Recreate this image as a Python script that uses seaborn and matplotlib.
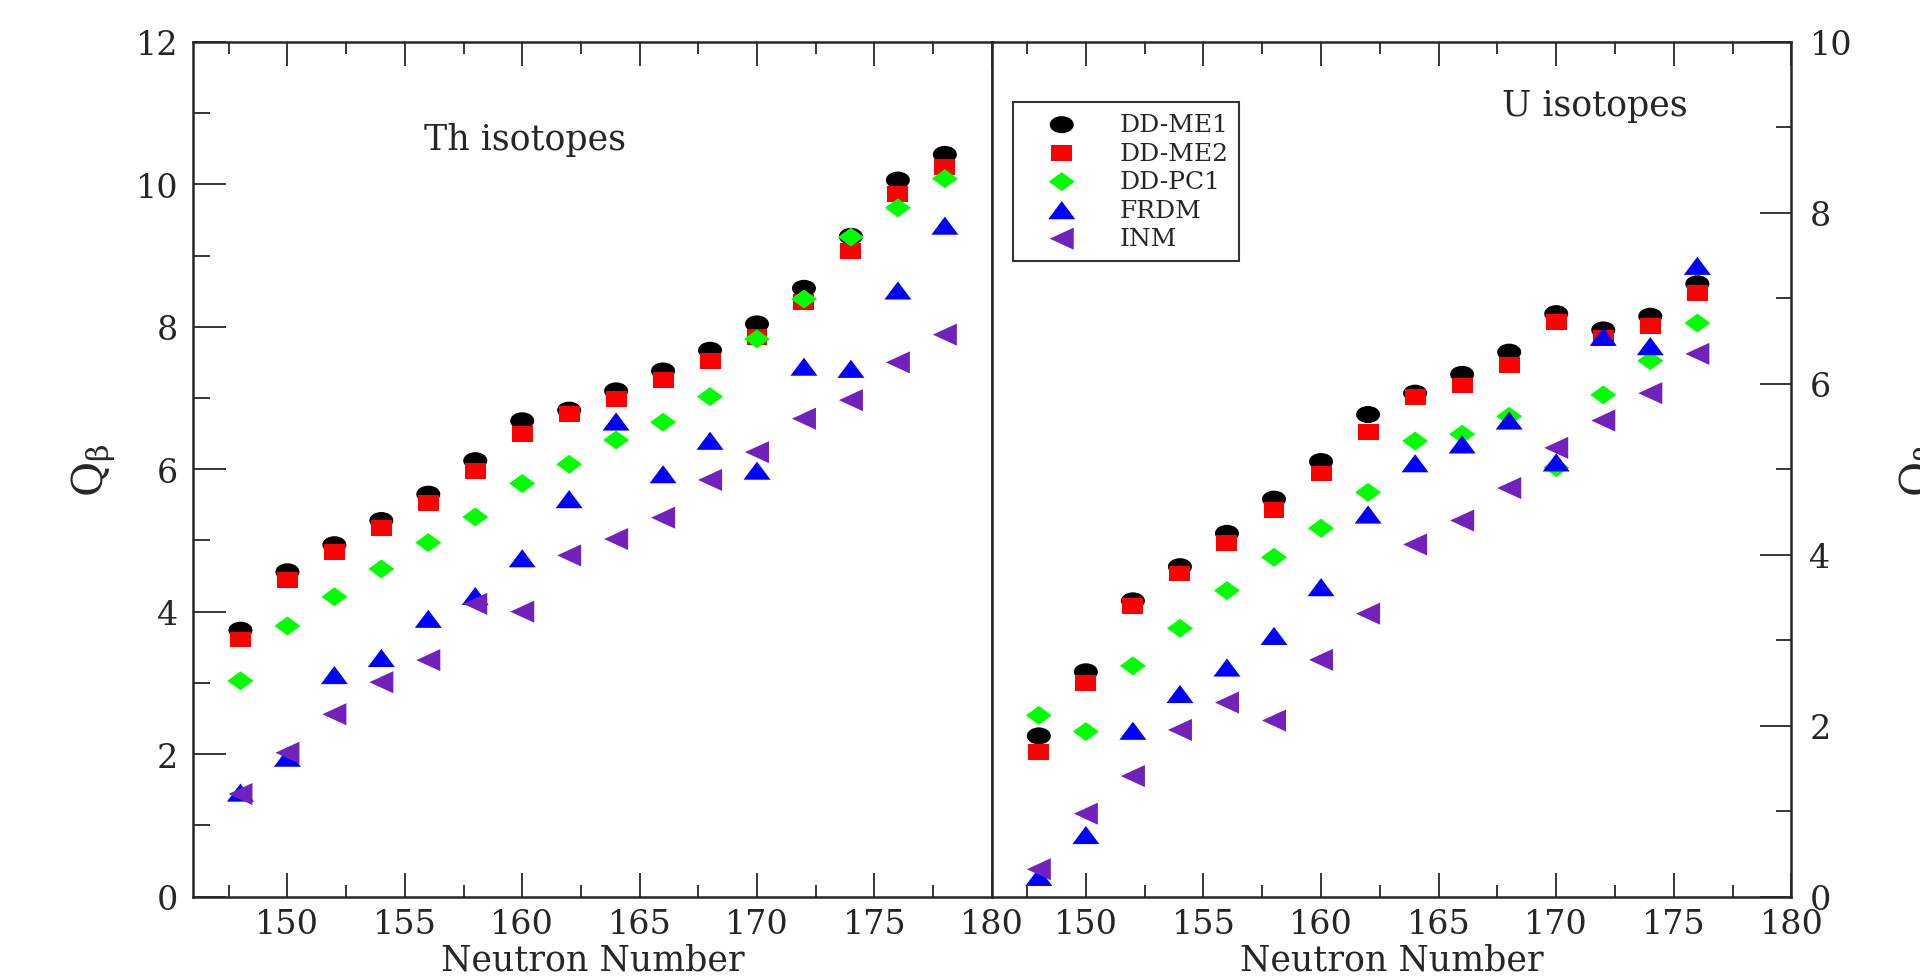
import matplotlib
matplotlib.use("Agg")
import matplotlib.pyplot as plt
import seaborn as sns
from matplotlib.path import Path
from matplotlib.transforms import Affine2D
from matplotlib.ticker import MultipleLocator

# neutron numbers
th_n = [148, 150, 152, 154, 156, 158, 160, 162, 164, 166, 168, 170, 172, 174, 176, 178]
u_n = [148, 150, 152, 154, 156, 158, 160, 162, 164, 166, 168, 170, 172, 174, 176]

# Th isotopes
th_ddme1 = [3.74, 4.56, 4.94, 5.28, 5.65, 6.12, 6.68, 6.83, 7.10, 7.38, 7.67, 8.04, 8.54, 9.27, 10.06, 10.42]
th_ddme2 = [3.61, 4.44, 4.84, 5.17, 5.53, 5.97, 6.50, 6.78, 6.99, 7.25, 7.52, 7.86, 8.35, 9.07, 9.87, 10.25]
th_ddpc1 = [3.03, 3.80, 4.21, 4.60, 4.97, 5.33, 5.80, 6.07, 6.41, 6.66, 7.02, 7.83, 8.39, 9.26, 9.67, 10.08]
th_frdm = [1.46, 1.95, 3.11, 3.35, 3.90, 4.22, 4.75, 5.58, 6.67, 5.93, 6.40, 5.98, 7.44, 7.41, 8.51, 9.42]
th_inm = [1.44, 2.02, 2.56, 3.01, 3.32, 4.11, 4.00, 4.79, 5.02, 5.32, 5.85, 6.24, 6.71, 6.97, 7.50, 7.89]

# U isotopes
u_ddme1 = [1.88, 2.63, 3.46, 3.86, 4.25, 4.65, 5.09, 5.64, 5.89, 6.11, 6.37, 6.82, 6.63, 6.79, 7.17]
u_ddme2 = [1.69, 2.50, 3.40, 3.78, 4.14, 4.52, 4.95, 5.44, 5.85, 5.98, 6.22, 6.72, 6.54, 6.68, 7.06]
u_ddpc1 = [2.12, 1.93, 2.70, 3.14, 3.58, 3.97, 4.31, 4.73, 5.33, 5.41, 5.62, 5.02, 5.87, 6.27, 6.71]
u_frdm = [0.23, 0.72, 1.94, 2.37, 2.68, 3.05, 3.62, 4.47, 5.07, 5.29, 5.57, 5.08, 6.55, 6.44, 7.38]
u_inm = [0.32, 0.97, 1.41, 1.95, 2.27, 2.06, 2.77, 3.31, 4.12, 4.40, 4.78, 5.25, 5.57, 5.89, 6.35]

labels = ["DD-ME1", "DD-ME2", "DD-PC1", "FRDM", "INM"]
colors = ["black", "#ff0000", "#00ff00", "#0000ff", "#7221bc"]


def shape(verts, sx, sy):
    p = Path(verts + [verts[0]], closed=True)
    return Affine2D().scale(sx, sy).transform_path(p)


# markers a bit wider than tall, like the original
markers = [
    Affine2D().scale(1.0, 0.71).transform_path(Path.unit_circle()),
    shape([(-1, -1), (1, -1), (1, 1), (-1, 1)], 1.0, 0.76),
    shape([(0, 1), (1, 0), (0, -1), (-1, 0)], 1.0, 0.73),
    shape([(0, 1), (1, -1), (-1, -1)], 1.0, 0.67),
    shape([(-1, 0), (1, 1), (1, -1)], 1.0, 0.92),
]
sizes = [299, 228, 350, 378, 299]

sns.set_style("ticks")
plt.rcParams["font.family"] = ["DejaVu Serif"]
plt.rcParams["mathtext.fontset"] = "dejavuserif"

fig = plt.figure(figsize=(19.2, 9.79), dpi=100)
ax1 = fig.add_axes([0.10078, 0.08315, 0.41578, 0.87303])
ax2 = fig.add_axes([0.51656, 0.08315, 0.41646, 0.87303])

th_sets = [th_ddme1, th_ddme2, th_ddpc1, th_frdm, th_inm]
u_sets = [u_ddme1, u_ddme2, u_ddpc1, u_frdm, u_inm]

for i in range(5):
    sns.scatterplot(x=th_n, y=th_sets[i], marker=markers[i], s=sizes[i], color=colors[i],
                    edgecolor="none", linewidth=0, ax=ax1, legend=False)
    sns.scatterplot(x=u_n, y=u_sets[i], marker=markers[i], s=sizes[i], color=colors[i],
                    edgecolor="none", linewidth=0, ax=ax2, legend=False, label=labels[i])

for ax in (ax1, ax2):
    ax.set_xlim(146, 180)
    ax.xaxis.set_major_locator(MultipleLocator(5))
    ax.xaxis.set_minor_locator(MultipleLocator(2.5))
    ax.yaxis.set_major_locator(MultipleLocator(2))
    ax.yaxis.set_minor_locator(MultipleLocator(1))
    ax.tick_params(axis="x", which="both", direction="in", top=True, bottom=True, width=1.3)
    ax.tick_params(axis="x", which="major", length=17, pad=8, labelsize=24)
    ax.tick_params(axis="x", which="minor", length=8.5)
    ax.set_xlabel("Neutron Number", fontsize=25, labelpad=2)
    for sp in ax.spines.values():
        sp.set_linewidth(1.8)
        sp.set_visible(True)

ax1.set_ylim(0, 12)
ax1.tick_params(axis="y", which="both", direction="in", left=True, right=False, width=1.3)
ax1.tick_params(axis="y", which="major", length=24, pad=11, labelsize=24)
ax1.tick_params(axis="y", which="minor", length=12)
ax1.set_ylabel(r"Q$_\mathregular{\beta}$", fontsize=31)
ax1.yaxis.set_label_coords(-0.094, 0.5)

ax2.set_ylim(0, 10)
ax2.tick_params(axis="y", which="both", direction="in", left=False, right=True,
                labelleft=False, labelright=True, width=1.3)
ax2.tick_params(axis="y", which="major", length=22, pad=13, labelsize=24)
ax2.tick_params(axis="y", which="minor", length=11)
ax2.yaxis.set_label_position("right")
ax2.set_ylabel(r"Q$_\mathregular{\beta}$", fontsize=31)
ax2.yaxis.set_label_coords(1.133, 0.5)

ax1.text(155.8, 10.63, "Th isotopes", fontsize=25, va="center", ha="left")
ax2.text(167.7, 9.26, "U isotopes", fontsize=25, va="center", ha="left")

handles, labs = ax2.get_legend_handles_labels()
leg = fig.legend(handles, labs, loc="upper left", bbox_to_anchor=(0.5276, 0.8948),
                 fontsize=18, frameon=True, fancybox=False, edgecolor="black",
                 borderpad=0.45, handlelength=3.0, handletextpad=0.8, labelspacing=0.22,
                 borderaxespad=0, scatterpoints=1)
leg.get_frame().set_linewidth(1.5)

fig.savefig("out.png", dpi=100)
